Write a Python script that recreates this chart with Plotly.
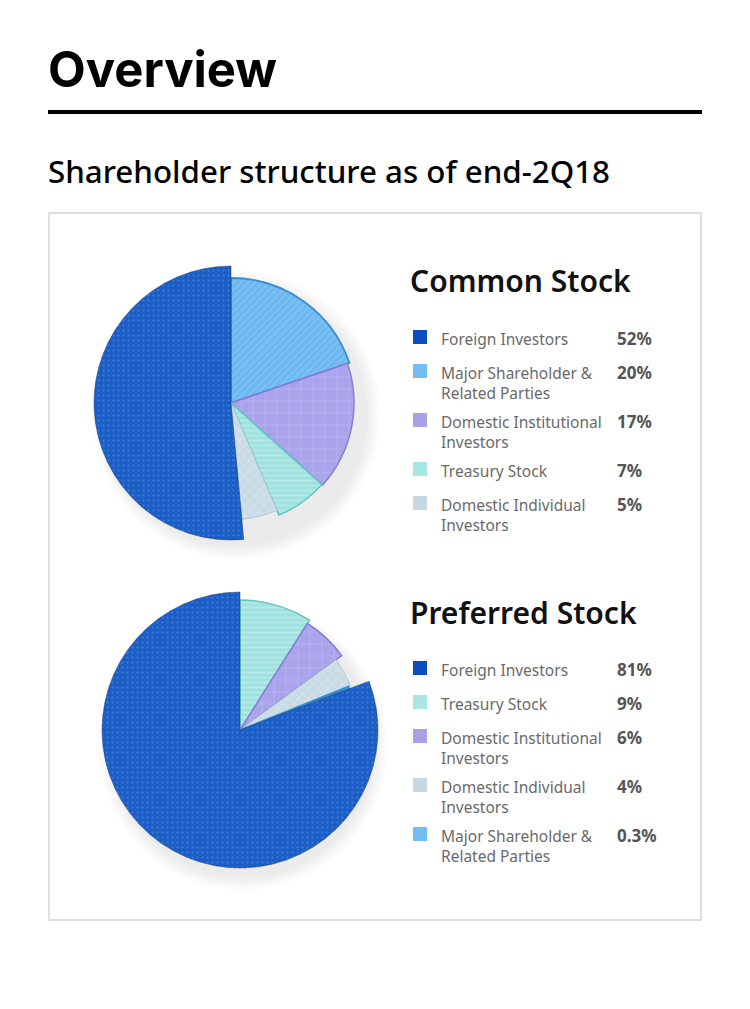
import plotly.graph_objects as go

W, H = 750, 1009
OFF = 8  # the page body margin the figure sits inside

# --- data (legend order) ---
common_keys = ["foreign", "major", "inst", "treasury", "indiv"]
common_labels = ["Foreign Investors", "Major Shareholder &<br>Related Parties",
                 "Domestic Institutional<br>Investors", "Treasury Stock",
                 "Domestic Individual<br>Investors"]
common_values = [52, 20, 17, 7, 5]
common_text = ["52%", "20%", "17%", "7%", "5%"]

preferred_keys = ["foreign", "treasury", "inst", "indiv", "major"]
preferred_labels = ["Foreign Investors", "Treasury Stock",
                    "Domestic Institutional<br>Investors",
                    "Domestic Individual<br>Investors",
                    "Major Shareholder &<br>Related Parties"]
preferred_values = [81, 9, 6, 4, 0.3]
preferred_text = ["81%", "9%", "6%", "4%", "0.3%"]

# --- styles ---
STYLE = {
    "foreign":  dict(color="#1a5ec6", fg="rgba(255,255,255,0.38)", shape=".", size=5, sol=0.15,
                     line="rgba(20,50,110,0.45)", lw=1, swatch="#0b4cc2"),
    "major":    dict(color="#6cb8f0", fg="rgba(255,255,255,0.30)", shape="/", size=5, sol=0.3,
                     line="#3a8ccf", lw=1.8, swatch="#74bdf2"),
    "inst":     dict(color="#aaa4ec", fg="rgba(255,255,255,0.45)", shape="+", size=12, sol=0.1,
                     line="#877dd6", lw=1.5, swatch="#a8a1e6"),
    "treasury": dict(color="#9fe2df", fg="rgba(255,255,255,0.5)", shape="-", size=5, sol=0.35,
                     line="#62c7c1", lw=1.5, swatch="#a9e6e4"),
    "indiv":    dict(color="#c9dce6", fg="rgba(255,255,255,0.6)", shape="x", size=7, sol=0.2,
                     line="#b4c8d2", lw=1, swatch="#c6d9e2"),
}
# slice radius in px, per chart (stylised 3D look)
common_r = {"foreign": 137, "major": 125, "inst": 123, "treasury": 122, "indiv": 117}
preferred_r = {"foreign": 138, "treasury": 130, "inst": 126, "indiv": 119, "major": 117}

FONT = "Noto Sans"


def px(x):
    return (x - OFF) / W


def py(y):
    return 1 - (y - OFF) / H


def add_pie(fig, keys, values, radius, subplot):
    # clockwise from 12 o'clock: everything after foreign, then foreign
    order = list(range(1, len(keys))) + [0]
    total = sum(values)
    start = 0.0
    for i in order:
        k = keys[i]
        st = STYLE[k]
        w = values[i] / total * 360
        fig.add_trace(go.Barpolar(
            r=[radius[k]], theta=[start + w / 2], width=[w],
            subplot=subplot, hoverinfo="skip", showlegend=False,
            marker=dict(
                color=st["color"],
                line=dict(color=st["line"], width=st["lw"]),
                pattern=dict(shape=st["shape"], fgcolor=st["fg"], bgcolor=st["color"],
                             size=st["size"], solidity=st["sol"]),
            ),
        ))
        start += w


def polar_layout(cx, cy):
    return dict(
        domain=dict(x=[px(cx - 140), px(cx + 140)], y=[py(cy + 140), py(cy - 140)]),
        bgcolor="rgba(0,0,0,0)", bargap=0, hole=0,
        radialaxis=dict(visible=False, range=[0, 140]),
        angularaxis=dict(visible=False, rotation=90, direction="clockwise"),
    )


fig = go.Figure()
add_pie(fig, common_keys, common_values, common_r, "polar")
add_pie(fig, preferred_keys, preferred_values, preferred_r, "polar2")

shapes, annotations = [], []

# page furniture
shapes.append(dict(type="line", xref="paper", yref="paper", x0=px(48), x1=px(702), y0=py(112), y1=py(112),
                   line=dict(color="#000000", width=4)))
shapes.append(dict(type="rect", xref="paper", yref="paper", x0=px(49), x1=px(701), y0=py(213), y1=py(920),
                   line=dict(color="#dedede", width=2), fillcolor="rgba(0,0,0,0)", layer="below"))

annotations.append(dict(text="<b>Overview</b>", x=px(46), y=py(69), xref="paper", yref="paper",
                        xanchor="left", yanchor="middle", showarrow=False,
                        font=dict(family="Inter", size=49, color="#000000")))
annotations.append(dict(text="Shareholder structure as of end-2Q18", x=px(46), y=py(171),
                        xref="paper", yref="paper", xanchor="left", yanchor="middle", showarrow=False,
                        font=dict(family=FONT, size=31.3, color="#000000", weight=500)))

# soft shadows under the pies
for cx, cy, dy in [(236, 403, 12), (243, 730, 16)]:
    for j in range(5):
        rr = 132 + j * 3
        shapes.append(dict(type="circle", xref="paper", yref="paper",
                           x0=px(cx - rr), x1=px(cx + rr),
                           y0=py(cy + dy + rr), y1=py(cy + dy - rr),
                           fillcolor="rgba(0,0,0,0.016)", line=dict(width=0), layer="below"))


def legend(title, title_y, keys, labels, texts, y0):
    annotations.append(dict(text=title, x=px(408), y=py(title_y), xref="paper", yref="paper",
                            xanchor="left", yanchor="middle", showarrow=False,
                            font=dict(family=FONT, size=30, color="#111111", weight=600)))
    y = y0
    for k, lab, t in zip(keys, labels, texts):
        shapes.append(dict(type="rect", xref="paper", yref="paper",
                           x0=px(413), x1=px(427), y0=py(y + 7), y1=py(y - 7),
                           fillcolor=STYLE[k]["swatch"], line=dict(width=0)))
        annotations.append(dict(text=lab, x=px(439), y=py(y - 11), xref="paper", yref="paper",
                                xanchor="left", yanchor="top", align="left", showarrow=False,
                                font=dict(family=FONT, size=15.5, color="#6a6a6a")))
        annotations.append(dict(text="<b>" + t + "</b>", x=px(615), y=py(y - 12), xref="paper", yref="paper",
                                xanchor="left", yanchor="top", showarrow=False,
                                font=dict(family=FONT, size=17, color="#555555")))
        nlines = lab.count("<br>") + 1
        y += 19 + 15 * nlines


legend("Common Stock", 280, common_keys, common_labels, common_text, 337)
legend("Preferred Stock", 612, preferred_keys, preferred_labels, preferred_text, 668)

fig.update_layout(
    width=W, height=H,
    margin=dict(l=0, r=0, t=0, b=0),
    paper_bgcolor="#ffffff", plot_bgcolor="#ffffff",
    polar=polar_layout(231, 403),
    polar2=polar_layout(240, 730),
    shapes=shapes, annotations=annotations,
    showlegend=False,
)

fig.write_html("out.html")
